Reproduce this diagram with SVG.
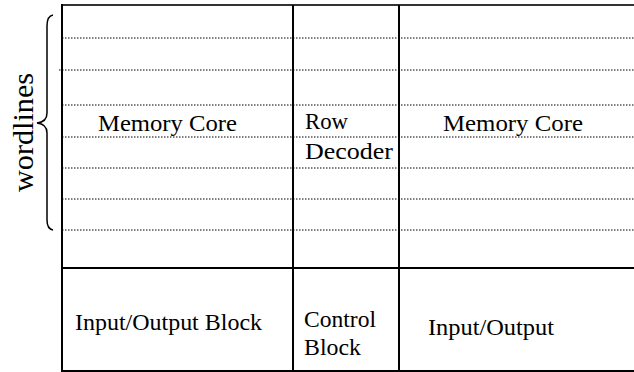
<svg xmlns="http://www.w3.org/2000/svg" width="634" height="372" viewBox="0 0 634 372">
<style>
.solid{stroke:#000;stroke-width:2;fill:none}
.dot{stroke:#000;stroke-width:1;stroke-dasharray:1.5 1.5;fill:none}
.t{font-family:'Liberation Serif','DejaVu Serif','Noto Serif',serif;font-size:23px;fill:#000}
</style>
<rect width="634" height="372" fill="#fff"/>
<g id="wordlines">
<path class="solid" style="stroke-width:1.5" d="M53,15 Q47,16 47,26 L47,113 Q47,122 37,123 Q47,124 47,133 L47,220 Q47,229 53,230"/>
<text class="t" transform="translate(33,132.5) rotate(-90)" text-anchor="middle" style="font-size:29px" textLength="119" lengthAdjust="spacingAndGlyphs">wordlines</text>
</g>
<g id="connectors">
<line class="solid" x1="61" y1="5" x2="634" y2="5" style="stroke:#333"/>
<line class="solid" x1="62" y1="4" x2="62" y2="372"/>
<line class="solid" x1="293" y1="5" x2="293" y2="372"/>
<line class="solid" x1="399" y1="5" x2="399" y2="372"/>
<line class="solid" x1="61" y1="268" x2="634" y2="268"/>
<line class="solid" x1="61" y1="371" x2="634" y2="371"/>
<line class="dot" x1="62" y1="38" x2="634" y2="38"/>
<line class="dot" x1="59" y1="70" x2="634" y2="70"/>
<line class="dot" x1="62" y1="105" x2="634" y2="105"/>
<line class="dot" x1="62" y1="137" x2="634" y2="137"/>
<line class="dot" x1="62" y1="168" x2="634" y2="168"/>
<line class="dot" x1="62" y1="199" x2="634" y2="199"/>
<line class="dot" x1="62" y1="230" x2="634" y2="230"/>
</g>
<g id="memory-core-left"><text class="t" x="98" y="131" textLength="139" lengthAdjust="spacingAndGlyphs">Memory Core</text></g>
<g id="row-decoder"><text class="t" x="305" y="129" textLength="43" lengthAdjust="spacingAndGlyphs">Row</text><text class="t" x="305" y="159" textLength="88" lengthAdjust="spacingAndGlyphs">Decoder</text></g>
<g id="memory-core-right"><text class="t" x="443" y="131" textLength="140" lengthAdjust="spacingAndGlyphs">Memory Core</text></g>
<g id="io-block"><text class="t" x="75" y="330" textLength="187" lengthAdjust="spacingAndGlyphs">Input/Output Block</text></g>
<g id="control-block"><text class="t" x="304" y="327" textLength="72" lengthAdjust="spacingAndGlyphs">Control</text><text class="t" x="304" y="355" textLength="57" lengthAdjust="spacingAndGlyphs">Block</text></g>
<g id="io-right"><text class="t" x="428" y="335" textLength="126" lengthAdjust="spacingAndGlyphs">Input/Output</text></g>
</svg>
